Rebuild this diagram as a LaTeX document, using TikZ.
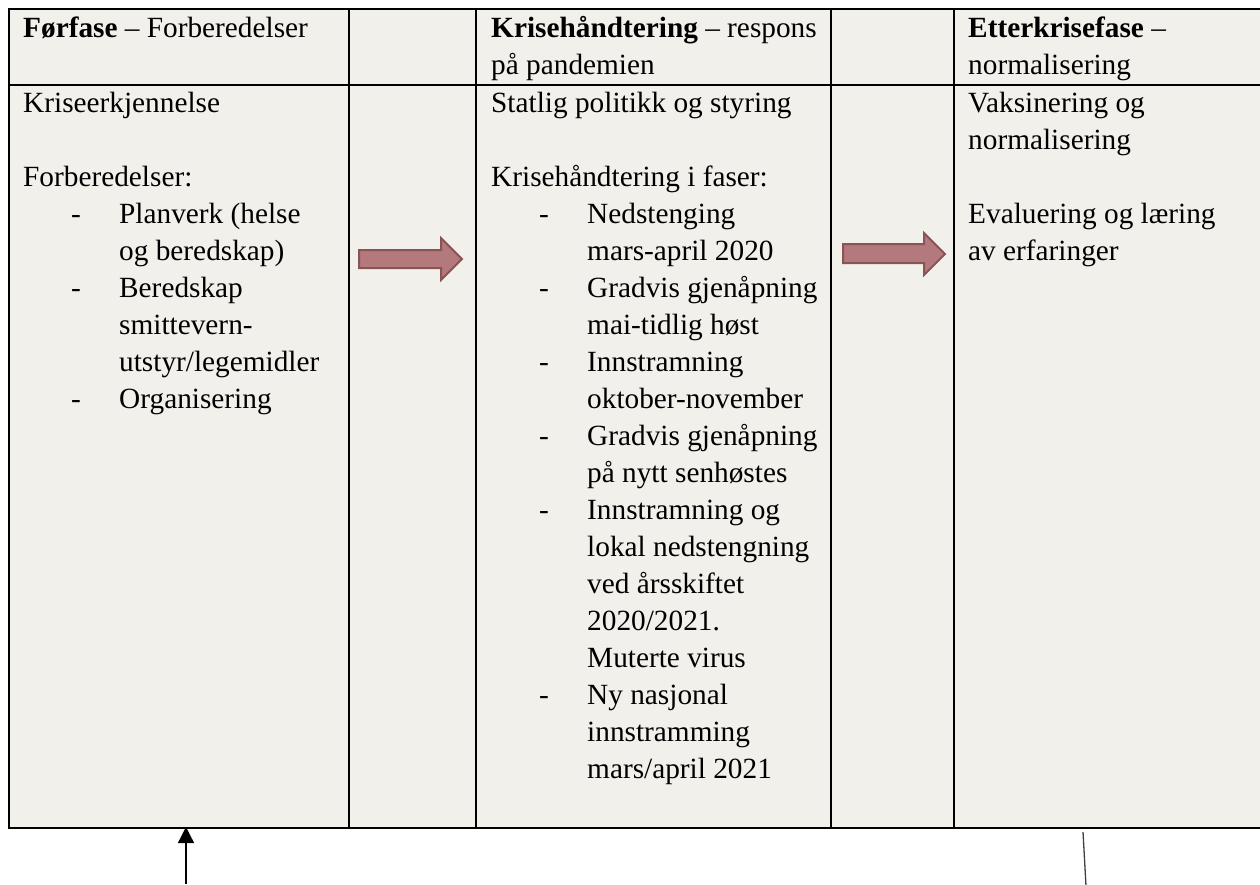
\documentclass[tikz,border=0pt]{standalone}
\usepackage{fontspec}
\setmainfont{Liberation Serif}
\usetikzlibrary{arrows.meta}
\definecolor{cellbg}{HTML}{F1F0EA}
\definecolor{arrfill}{HTML}{B3797C}
\definecolor{arrdraw}{HTML}{8A5356}
\newcommand{\fr}{\rule{0pt}{26pt}}
\newcommand{\itm}[1]{\makebox[96pt][l]{\hspace{48pt}-}#1}
\newcommand{\cnt}[1]{\hspace*{96pt}#1}
\begin{document}
\begin{tikzpicture}[x=1pt,y=-1pt,
  txt/.style={anchor=north west, inner sep=0pt, align=left, font=\fontsize{29.3}{37}\selectfont},
  grid/.style={line width=2.5pt, black},
  blockarrow/.style={fill=arrfill, draw=arrdraw, line width=2pt, line join=miter},
  pointer/.style={line width=1.4pt, black, -{Triangle[width=16pt,length=16pt]}},
  stub/.style={line width=1.3pt, black!75}]
\useasboundingbox (0,0) rectangle (1260,884);
\clip (0,0) rectangle (1260,884);
\fill[white] (0,0) rectangle (1260,884);
\fill[cellbg] (9,9) rectangle (1270,828);
% table grid
\draw[grid] (9,9) rectangle (1270,828);
\draw[grid] (9,85) -- (1270,85);
\foreach \xx in {349,476,831,954} \draw[grid] (\xx,9) -- (\xx,828);
% header texts
\node[txt] (h1) at (23,11) {\fr\textbf{Førfase} – Forberedelser};
\node[txt] (h2) at (491,11) {\fr\textbf{Krisehåndtering} – respons\\på pandemien};
\node[txt] (h3) at (968,11) {\fr\textbf{Etterkrisefase} –\\normalisering};
% body texts
\node[txt] (b1) at (23,86) {\fr Kriseerkjennelse\\[37pt]
Forberedelser:\\
\itm{Planverk (helse}\\
\cnt{og beredskap)}\\
\itm{Beredskap}\\
\cnt{smittevern-}\\
\cnt{utstyr/legemidler}\\
\itm{Organisering}};
\node[txt] (b2) at (491,86) {\fr Statlig politikk og styring\\[37pt]
Krisehåndtering i faser:\\
\itm{Nedstenging}\\
\cnt{mars-april 2020}\\
\itm{Gradvis gjenåpning}\\
\cnt{mai-tidlig høst}\\
\itm{Innstramning}\\
\cnt{oktober-november}\\
\itm{Gradvis gjenåpning}\\
\cnt{på nytt senhøstes}\\
\itm{Innstramning og}\\
\cnt{lokal nedstengning}\\
\cnt{ved årsskiftet}\\
\cnt{2020/2021.}\\
\cnt{Muterte virus}\\
\itm{Ny nasjonal}\\
\cnt{innstramming}\\
\cnt{mars/april 2021}};
\node[txt] (b3) at (968,86) {\fr Vaksinering og\\
normalisering\\[37pt]
Evaluering og læring\\
av erfaringer};
% block arrows
\draw[blockarrow] (359,250) -- (441,250) -- (441,238) -- (462,259) -- (441,280) -- (441,268) -- (359,268) -- cycle;
\draw[blockarrow] (843,244) -- (924,244) -- (924,233) -- (945,254) -- (924,275) -- (924,263) -- (843,263) -- cycle;
% pointers below table
\coordinate (p1s) at (186,884);
\coordinate (p1e) at (186,827);
\draw[pointer] (p1s) -- (p1e);
\coordinate (p2s) at (1083,832);
\coordinate (p2e) at (1086,886);
\draw[stub] (p2s) -- (p2e);
\end{tikzpicture}
\end{document}
